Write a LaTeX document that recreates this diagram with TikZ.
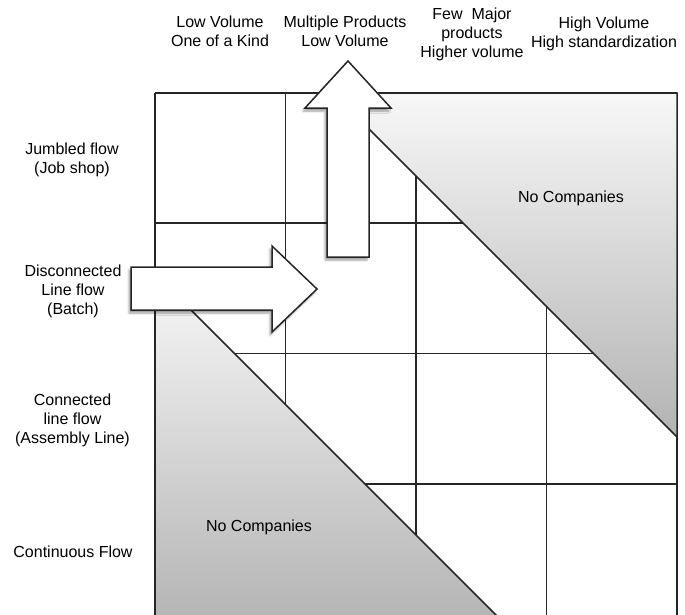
\documentclass[tikz,border=0pt]{standalone}
\usepackage{fontspec}
\setmainfont{Liberation Sans}
\usetikzlibrary{shadows.blur}

\begin{document}
\begin{tikzpicture}[x=1pt,y=-1pt,
  lbl/.style={align=center,font=\fontsize{16}{19}\selectfont,inner sep=0pt},
  gridline/.style={line width=1.5pt,draw=black!85},
  nozone/.style={top color=black!3,bottom color=black!30,draw=black!85,line width=1.5pt,line join=miter},
  bigarrow/.style={fill=white,draw=black!85,line width=1.5pt,line join=miter,
                   blur shadow={shadow xshift=-2pt,shadow yshift=-3pt,shadow opacity=40,shadow blur steps=6}}]
 \useasboundingbox (0,0) rectangle (685,614);
 % grid of cells
 \foreach \gx in {155,285.5,416,546.5,677} \draw[gridline] (\gx,93) -- (\gx,630);
 \foreach \gy in {93,223,353.5,484} \draw[gridline] (155,\gy) -- (677,\gy);
 % empty corners
 \draw[nozone] (333,93) -- (677,93) -- (677,437) -- cycle;
 \draw[nozone] (155,274) -- (155,630) -- (511,630) -- cycle;
 % arrows
 \draw[bigarrow] (327,257) -- (327,108) -- (305,108) -- (348,61) -- (391,108)
   -- (369,108) -- (369,257) -- cycle;
 \draw[bigarrow] (131,267) -- (272,267) -- (272,246) -- (317,289) -- (272,332)
   -- (272,310) -- (131,310) -- cycle;
 % column heads
 \node[lbl] (c1) at (220,31) {Low Volume\\One of a Kind};
 \node[lbl] (c2) at (345,31) {Multiple Products\\Low Volume};
 \node[lbl] (c3) at (472,34) {Few\ \ Major\\products\\Higher volume};
 \node[lbl] (c4) at (604,33.5) {High Volume\\High standardization};
 % row heads
 \node[lbl] (r1) at (72,160) {Jumbled flow\\(Job shop)};
 \node[lbl] (r2) at (73,291) {Disconnected\\Line flow\\(Batch)};
 \node[lbl] (r3) at (72.5,420) {Connected\\line flow\\(Assembly Line)};
 \node[lbl] (r4) at (73,552) {Continuous Flow};
 \node[lbl] (nc1) at (571,198) {No Companies};
 \node[lbl] (nc2) at (259,527) {No Companies};
\end{tikzpicture}
\end{document}
